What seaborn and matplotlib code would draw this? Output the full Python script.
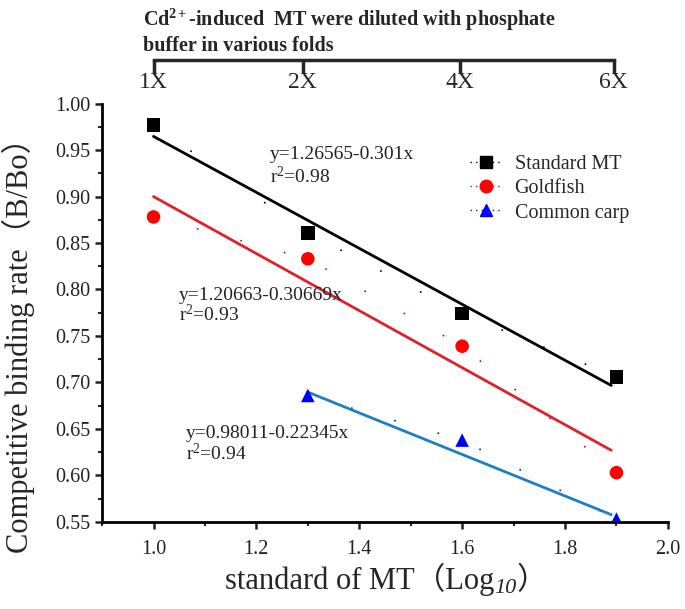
import numpy as np
import pandas as pd
import matplotlib.pyplot as plt
import seaborn as sns
from matplotlib.lines import Line2D
from matplotlib.ticker import MultipleLocator

# Data
series_names = ["Standard MT", "Goldfish", "Common carp"]
std_x = [1.0, 1.3, 1.6, 1.9]
std_y = [0.977, 0.861, 0.774, 0.706]
gold_x = [1.0, 1.3, 1.6, 1.9]
gold_y = [0.878, 0.833, 0.739, 0.603]
carp_x = [1.3, 1.6, 1.9]
carp_y = [0.686, 0.638, 0.553]

# Fitted lines as printed on the chart
fit_intercept = [1.26565, 1.20663, 0.98011]
fit_slope = [-0.301, -0.30669, -0.22345]
fit_r2 = ["0.98", "0.93", "0.94"]
fit_range = [(1.0, 1.89), (1.0, 1.89), (1.3, 1.89)]

# Top axis: dilution folds
fold_pos = [1.0, 1.29, 1.595, 1.895]
fold_labels = ["1X", "2X", "4X", "6X"]

marker_map = {"Standard MT": "s", "Goldfish": "o", "Common carp": "^"}
point_colors = {"Standard MT": "#000000", "Goldfish": "#ff0000", "Common carp": "#0000ff"}
line_colors = ["#000000", "#e0202a", "#1f7fc0"]
dot_colors = ["#000000", "#8b1a2a", "#1a1a80"]

df = pd.concat([
    pd.DataFrame({"series": "Standard MT", "x": std_x, "y": std_y}),
    pd.DataFrame({"series": "Goldfish", "x": gold_x, "y": gold_y}),
    pd.DataFrame({"series": "Common carp", "x": carp_x, "y": carp_y}),
], ignore_index=True)

sns.set_theme(style="ticks")
serif = ["Liberation Serif", "Noto Sans CJK SC", "DejaVu Sans"]
plt.rcParams["font.family"] = serif
plt.rcParams["mathtext.fontset"] = "custom"
plt.rcParams["mathtext.rm"] = "Liberation Serif"
plt.rcParams["mathtext.it"] = "Liberation Serif:italic"
plt.rcParams["mathtext.bf"] = "Liberation Serif:bold"

fig = plt.figure(figsize=(6.85, 6.09), dpi=100)
ax = fig.add_axes([0.149, 0.143, 0.826, 0.687])

# sparse dotted connecting lines (Origin style)
for name, c in zip(series_names, dot_colors):
    sub = df[df["series"] == name]
    ax.plot(sub["x"], sub["y"], linestyle=(0, (1, 26)), color=c, lw=1.2, zorder=2)

# regression lines
for (x0, x1), b, m, c in zip(fit_range, fit_intercept, fit_slope, line_colors):
    xs = np.array([x0, x1])
    sns.lineplot(x=xs, y=b + m * xs, color=c, lw=2.0, ax=ax, zorder=3)

sns.scatterplot(data=df, x="x", y="y", hue="series", style="series",
                markers=marker_map, palette=point_colors, s=95,
                edgecolor="none", legend=False, ax=ax, zorder=4)

ax.set_xlim(0.9, 2.0)
ax.set_ylim(0.55, 1.0)
ax.xaxis.set_major_locator(MultipleLocator(0.2))
ax.xaxis.set_minor_locator(MultipleLocator(0.1))
ax.yaxis.set_major_locator(MultipleLocator(0.05))
ax.yaxis.set_minor_locator(MultipleLocator(0.025))
ax.set_xticks([1.0, 1.2, 1.4, 1.6, 1.8, 2.0])
ax.set_xticklabels(["1.0", "1.2", "1.4", "1.6", "1.8", "2.0"])
ax.yaxis.set_major_formatter(plt.FuncFormatter(lambda v, p: f"{v:.2f}"))
ax.tick_params(which="major", length=5, width=1.8, labelsize=14.5, colors="#222222")
ax.tick_params(which="minor", length=3, width=1.5)
ax.tick_params(axis="x", pad=8)
for side in ["top", "right"]:
    ax.spines[side].set_visible(False)
for side in ["left", "bottom"]:
    ax.spines[side].set_linewidth(2)
    ax.spines[side].set_color("black")

ax.set_xlabel("")
ax.set_ylabel("Competitive binding rate（B/Bo）", fontsize=22, family=serif)
ax.yaxis.set_label_coords(-0.118, 0.44)

# x label with italic subscript
t1 = fig.text(0.328, 0.022, "standard of MT（Log", fontsize=22, family=serif,
              ha="left", va="bottom")
t2 = ax.annotate("10", xy=(1, 0.2), xycoords=t1, fontsize=16, style="italic",
                 family=serif, ha="left", va="center")
ax.annotate("）", xy=(1, 0), xycoords=(t2, t1), fontsize=22, family=serif,
            ha="left", va="bottom")

# equation labels
eq_pos = [(1.227, 0.945, 0.921), (1.05, 0.794, 0.773), (1.063, 0.645, 0.624)]
for (ex, ey1, ey2), b, m, r2 in zip(eq_pos, fit_intercept, fit_slope, fit_r2):
    ax.text(ex, ey1, f"y={b:g}-{abs(m):g}x", fontsize=14, ha="left", va="center", color="#222222")
    ax.text(ex, ey2, f"r$^2$={r2}", fontsize=14, ha="left", va="center", color="#222222")

# legend
handles = [Line2D([0], [0], linestyle=(0, (1, 3)), lw=1, color=dc,
                  marker=marker_map[n], markersize=9, markerfacecolor=point_colors[n],
                  markeredgecolor=point_colors[n])
           for n, dc in zip(series_names, dot_colors)]
ax.legend(handles, series_names, loc="upper left", bbox_to_anchor=(0.66, 0.775),
          bbox_transform=fig.transFigure, frameon=False, fontsize=14.5,
          handlelength=1.6, handletextpad=0.6, labelspacing=0.25)

# top fold axis
top = fig.add_axes([0.149, 1 - 60 / 609, 0.826, 0.0001])
top.set_xlim(0.9, 2.0)
top.set_yticks([])
for side in ["top", "right", "left"]:
    top.spines[side].set_visible(False)
top.spines["bottom"].set_bounds(fold_pos[0], fold_pos[-1])
top.spines["bottom"].set_linewidth(2.5)
top.set_xticks(fold_pos)
top.set_xticklabels(fold_labels)
top.tick_params(axis="x", direction="out", length=9, width=2.5, labelsize=17, pad=0)
top.patch.set_visible(False)

fig.text(0.209, 0.968, "Cd$^{\\mathbf{2+}}$-induced  MT were diluted with phosphate",
         fontsize=14.5, fontweight="bold", ha="left", va="center")
fig.text(0.209, 0.925, "buffer in various folds", fontsize=14.5, fontweight="bold",
         ha="left", va="center")

fig.savefig("out.png", dpi=100)
